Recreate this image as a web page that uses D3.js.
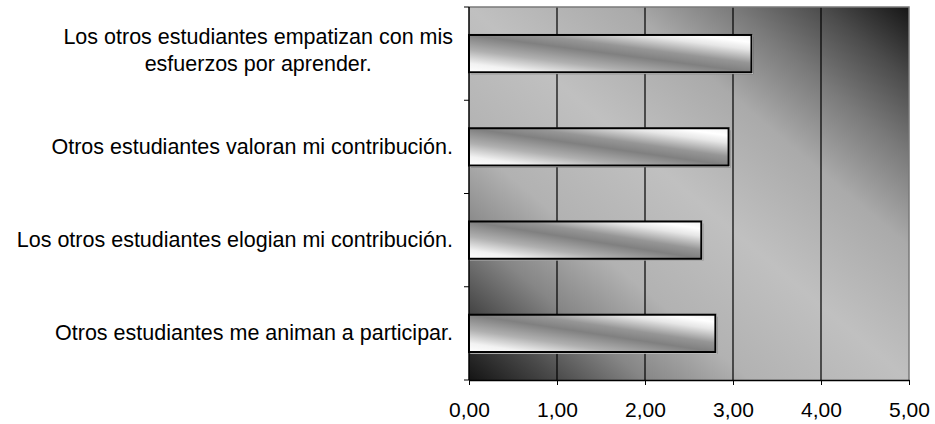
<!DOCTYPE html>
<html><head><meta charset="utf-8">
<script src="https://cdn.jsdelivr.net/npm/d3@7"></script>
<style>body{margin:0;background:#fff;overflow:hidden}</style>
</head><body><svg id="c" width="935" height="424"></svg>
<script>
const categories = [
  "Los otros estudiantes empatizan con mis\nesfuerzos por aprender.",
  "Otros estudiantes valoran mi contribución.",
  "Los otros estudiantes elogian mi contribución.",
  "Otros estudiantes me animan a participar."
];
const values = [3.21, 2.95, 2.64, 2.80];
const xTickValues = [0, 1, 2, 3, 4, 5];
const xTickLabels = ["0,00", "1,00", "2,00", "3,00", "4,00", "5,00"];

const svg = d3.select("#c");
const plot = {left: 469, right: 909, top: 7, bottom: 380};
const FONT = "'Liberation Sans', Arial, sans-serif";

const x = d3.scaleLinear().domain([0, 5]).range([plot.left, plot.right]);
const y = d3.scaleBand().domain(d3.range(categories.length))
  .range([plot.top, plot.bottom]).paddingInner(0.6).paddingOuter(0.3);

const defs = svg.append("defs");
const bg = defs.append("linearGradient").attr("id", "bg")
  .attr("x1", 0).attr("y1", 1).attr("x2", 1).attr("y2", 0);
[[0, "#141414"], [0.1, "#4a4a4a"], [0.2, "#868686"], [0.32, "#b2b2b2"], [0.5, "#c0c0c0"],
 [0.68, "#aaaaaa"], [0.8, "#7a7a7a"], [0.9, "#4c4c4c"], [1, "#161616"]]
  .forEach(([o, c]) => bg.append("stop").attr("offset", o).attr("stop-color", c));
const bar = defs.append("linearGradient").attr("id", "bar")
  .attr("x1", 0).attr("y1", 1).attr("x2", 1).attr("y2", 0);
[[0, "#ffffff"], [0.12, "#f2f2f2"], [0.3, "#b0b0b0"], [0.5, "#808080"], [0.62, "#969696"],
 [0.8, "#e6e6e6"], [0.9, "#ffffff"], [1, "#f4f4f4"]]
  .forEach(([o, c]) => bar.append("stop").attr("offset", o).attr("stop-color", c));

svg.append("rect").attr("x", plot.left).attr("y", plot.top)
  .attr("width", plot.right - plot.left).attr("height", plot.bottom - plot.top)
  .attr("fill", "url(#bg)");

svg.append("g").selectAll("line").data(xTickValues.filter(d => d > 0 && d < 5)).join("line")
  .attr("x1", d => x(d)).attr("x2", d => x(d))
  .attr("y1", plot.top).attr("y2", plot.bottom)
  .attr("stroke", "#000").attr("stroke-width", 1.2);

svg.append("path")
  .attr("d", `M${plot.left},${plot.top}H${plot.right}V${plot.bottom}`)
  .attr("fill", "none").attr("stroke", "#7a7a7a").attr("stroke-width", 1.5);

const bars = svg.append("g").selectAll("g").data(values).join("g");
bars.append("rect")
  .attr("x", x(0) + 2).attr("y", (d, i) => y(i) + 2)
  .attr("width", d => x(d) - x(0)).attr("height", y.bandwidth())
  .attr("fill", "#666").attr("opacity", 0.75);
bars.append("rect")
  .attr("x", x(0)).attr("y", (d, i) => y(i))
  .attr("width", d => x(d) - x(0) + 1).attr("height", y.bandwidth() + 1)
  .attr("fill", "none").attr("stroke", "#fff").attr("stroke-width", 1);
bars.append("rect")
  .attr("x", x(0)).attr("y", (d, i) => y(i))
  .attr("width", d => x(d) - x(0)).attr("height", y.bandwidth())
  .attr("fill", "url(#bar)").attr("stroke", "#000").attr("stroke-width", 2);

const xAxis = d3.axisBottom(x).tickValues(xTickValues)
  .tickFormat((d, i) => xTickLabels[i]).tickSize(5).tickSizeOuter(0);
const gx = svg.append("g").attr("transform", `translate(0,${plot.bottom})`).call(xAxis);
gx.select(".domain").attr("stroke", "#000").attr("stroke-width", 1.5);
gx.selectAll(".tick line").attr("stroke", "#000");
gx.selectAll(".tick text").attr("fill", "#000").attr("font-family", FONT)
  .attr("font-size", 21).attr("dy", null).attr("y", 37);

const step = y.step();
const yTicks = d3.range(categories.length + 1).map(i => plot.top + i * step);
svg.append("line").attr("x1", plot.left).attr("x2", plot.left)
  .attr("y1", plot.top).attr("y2", plot.bottom).attr("stroke", "#000").attr("stroke-width", 1.5);
svg.append("g").selectAll("line").data(yTicks).join("line")
  .attr("x1", plot.left - 5).attr("x2", plot.left)
  .attr("y1", d => d).attr("y2", d => d).attr("stroke", "#000");

const lineH = 27;
categories.forEach((label, i) => {
  const lines = label.split("\n");
  const cy = y(i) + y.bandwidth() / 2;
  const t = svg.append("text").attr("font-family", FONT).attr("font-size", 21.5)
    .attr("fill", "#000").attr("text-anchor", "middle");
  lines.forEach((ln, j) => {
    t.append("tspan").text(ln)
      .attr("y", cy + (j - (lines.length - 1) / 2) * lineH + 7 - (lines.length > 1 ? 3 : 0));
  });
  const w = d3.max(t.selectAll("tspan").nodes(), n => n.getComputedTextLength());
  t.selectAll("tspan").attr("x", 453 - w / 2);
});
</script>
</body></html>
